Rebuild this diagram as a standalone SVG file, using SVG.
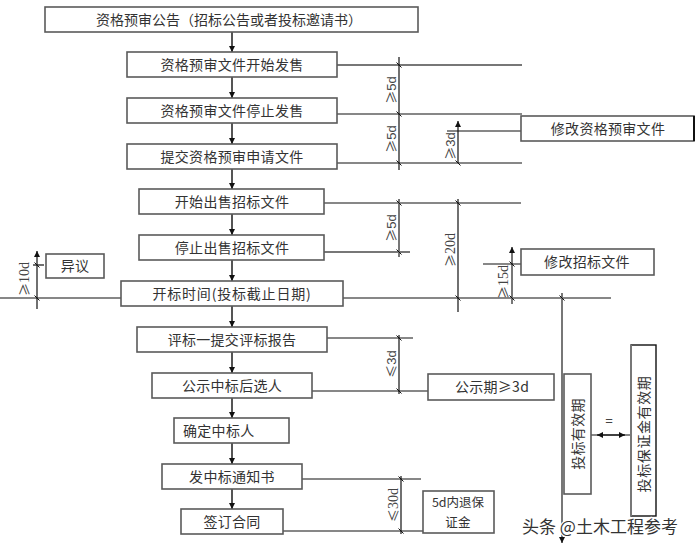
<svg xmlns="http://www.w3.org/2000/svg" width="699" height="549" viewBox="0 0 699 549">
<defs>
<style>
.box{fill:#fff;stroke:#5a5a5a;stroke-width:1.6}
.t{font-family:"Noto Sans CJK SC","Liberation Sans",sans-serif;font-size:14px;fill:#333;letter-spacing:0.3px}
.c{text-anchor:middle}
.dim{font-family:"Liberation Sans","Noto Sans CJK SC",sans-serif;font-size:13px;fill:#444;text-anchor:middle}
.dims{font-family:"Liberation Serif","Noto Sans CJK SC",serif;font-size:14px;fill:#444;text-anchor:middle}
.ge{font-family:"Noto Sans CJK SC",sans-serif;font-size:13px}
.k{stroke:#111;stroke-width:1.2;fill:none}
.g{stroke:#777;stroke-width:2;fill:none}
.flow{stroke:#555;stroke-width:2;fill:none;marker-end:url(#arr)}
.tick{stroke:#111;stroke-width:1;fill:none}
</style>
<marker id="arr" viewBox="0 0 6 6" refX="6" refY="3" markerWidth="6" markerHeight="6" markerUnits="userSpaceOnUse" orient="auto"><path d="M0,0 L6,3 L0,6 z" fill="#111"/></marker>
<marker id="arrs" viewBox="0 0 6 6" refX="0" refY="3" markerWidth="6" markerHeight="6" markerUnits="userSpaceOnUse" orient="auto"><path d="M6,0 L0,3 L6,6 z" fill="#111"/></marker>
</defs>
<rect width="699" height="549" fill="#fff"/>

<g id="connectors">
<path class="flow" d="M232,32 V52"/>
<path class="flow" d="M232,77 V98"/>
<path class="flow" d="M232,123 V144"/>
<path class="flow" d="M232,169 V189"/>
<path class="flow" d="M232,214 V235"/>
<path class="flow" d="M232,260 V281"/>
<path class="flow" d="M232,306 V327"/>
<path class="flow" d="M232,352 V373"/>
<path class="flow" d="M232,398 V418"/>
<path class="flow" d="M232,443 V464"/>
<path class="flow" d="M232,489 V509"/>

<path class="g" d="M337,65 H522"/>
<path class="k" d="M337,114 H522"/>
<path class="k" d="M337,163 H522"/>
<path class="k" d="M399,57 V170"/>
<path class="k" d="M458,163 V121" marker-end="url(#arr)"/>
<path class="k" d="M447,131 H521"/>

<path class="k" d="M324,203 H521"/>
<path class="g" d="M324,252 H410"/>
<path class="g" d="M399,199 V257"/>
<path class="k" d="M458,199 V312"/>
<path class="k" d="M0,298 H121"/>
<path class="k" d="M343,298 H611"/>
<path class="g" d="M512,304 V247" marker-end="url(#arr)"/>
<path class="k" d="M483,264 H521"/>
<path class="k" d="M37,309 V251" marker-end="url(#arr)"/>
<path class="k" d="M33,265 H44"/>
<path class="g" d="M562,293 V543" marker-end="url(#arr)"/>

<path class="k" d="M327,338 H413"/>
<path class="k" d="M312,391 H428"/>
<path class="k" d="M399,335 V394"/>
<path class="k" d="M302,479 H421"/>
<path class="k" d="M283,531 H423"/>
<path class="k" d="M401,476 V534"/>

<path class="k" d="M597,435 H625" marker-start="url(#arrs)" marker-end="url(#arr)"/>
<path class="k" d="M591,435 H631" stroke-width="1.4"/>

<g class="tick">
<path d="M396.5,62.5 l5,5"/><path d="M396.5,111.5 l5,5"/><path d="M396.5,160.5 l5,5"/>
<path d="M455.5,160.5 l5,5"/>
<path d="M396.5,200.5 l5,5"/><path d="M396.5,249.5 l5,5"/>
<path d="M455.5,200.5 l5,5"/><path d="M455.5,295.5 l5,5"/>
<path d="M509.5,261.5 l5,5"/><path d="M509.5,295.5 l5,5"/>
<path d="M34.5,262.5 l5,5"/><path d="M34.5,295.5 l5,5"/>
<path d="M559.5,295.5 l5,5"/>
<path d="M396.5,335.5 l5,5"/><path d="M396.5,388.5 l5,5"/>
<path d="M398.5,476.5 l5,5"/><path d="M398.5,528.5 l5,5"/>
</g>

<text class="dim" transform="translate(396,90) rotate(-90)"><tspan class="ge">≥</tspan>5d</text>
<text class="dim" transform="translate(396,139) rotate(-90)"><tspan class="ge">≥</tspan>5d</text>
<text class="dim" transform="translate(455,146) rotate(-90)"><tspan class="ge">≥</tspan>3d</text>
<text class="dim" transform="translate(396,228) rotate(-90)"><tspan class="ge">≥</tspan>5d</text>
<text class="dims" transform="translate(455,250) rotate(-90)"><tspan class="ge">≥</tspan>20d</text>
<text class="dims" transform="translate(508,282) rotate(-90)"><tspan class="ge">≥</tspan>15d</text>
<text class="dims" transform="translate(29,279) rotate(-90)"><tspan class="ge">≥</tspan>10d</text>
<text class="dim" transform="translate(396,364) rotate(-90)"><tspan class="ge">≤</tspan>3d</text>
<text class="dims" transform="translate(398,505) rotate(-90)"><tspan class="ge">≤</tspan>30d</text>
<text class="dim" x="609" y="425" font-size="11">=</text>
</g>

<g id="n1"><rect class="box" x="45" y="7" width="373" height="25"/><text class="t c" x="229" y="25" style="letter-spacing:0">资格预审公告（招标公告或者投标邀请书）</text></g>
<g id="n2"><rect class="box" x="127" y="52" width="210" height="25"/><text class="t c" x="232" y="69.5">资格预审文件开始发售</text></g>
<g id="n3"><rect class="box" x="127" y="98" width="210" height="25"/><text class="t c" x="232" y="115.5">资格预审文件停止发售</text></g>
<g id="n4"><rect class="box" x="127" y="144" width="210" height="25"/><text class="t c" x="232" y="161.5">提交资格预审申请文件</text></g>
<g id="n5"><rect class="box" x="139" y="189" width="185" height="25"/><text class="t c" x="232" y="206.5">开始出售招标文件</text></g>
<g id="n6"><rect class="box" x="139" y="235" width="185" height="25"/><text class="t c" x="232" y="252.5">停止出售招标文件</text></g>
<g id="n7"><rect class="box" x="121" y="281" width="222" height="25"/><text class="t c" x="232" y="298.5" style="letter-spacing:0.8px">开标时间(投标截止日期)</text></g>
<g id="n8"><rect class="box" x="137" y="327" width="190" height="25"/><text class="t c" x="232" y="344.5">评标一提交评标报告</text></g>
<g id="n9"><rect class="box" x="152" y="373" width="160" height="25"/><text class="t c" x="232" y="390.5">公示中标后选人</text></g>
<g id="n10"><rect class="box" x="174" y="418" width="115" height="25"/><text class="t" x="183" y="435.5">确定中标人</text></g>
<g id="n11"><rect class="box" x="162" y="464" width="140" height="25"/><text class="t c" x="232" y="481.5">发中标通知书</text></g>
<g id="n12"><rect class="box" x="181" y="509" width="102" height="25"/><text class="t c" x="232" y="526.5">签订合同</text></g>
<g id="n13"><rect class="box" x="46" y="254" width="58" height="24"/><text class="t c" x="75" y="271">异议</text></g>
<g id="n14"><rect class="box" x="521" y="116" width="173" height="25"/><path d="M694,116 V141" stroke="#111" stroke-width="2"/><text class="t c" x="608" y="133.5">修改资格预审文件</text></g>
<g id="n15"><rect class="box" x="521" y="249" width="133" height="26"/><text class="t c" x="587" y="266.5">修改招标文件</text></g>
<g id="n16"><rect class="box" x="428" y="374" width="126" height="26"/><text class="t c" x="492" y="392">公示期≥3d</text></g>
<g id="n17"><rect class="box" x="423" y="491" width="71" height="42"/><text class="t c" x="458" y="507" style="font-size:12.5px;letter-spacing:0">5d内退保</text><text class="t c" x="458" y="527" style="font-size:12.5px">证金</text></g>
<g id="n18"><rect class="box" x="564" y="374" width="27" height="120"/><text class="t c" transform="translate(582.5,434) rotate(-90)">投标有效期</text></g>
<g id="n19"><rect x="631" y="345" width="25" height="171" fill="#fff" stroke="#111" stroke-width="1.4"/><path d="M631,345 V516" stroke="#777" stroke-width="2"/><text class="t c" transform="translate(648.5,434) rotate(-90)" style="letter-spacing:0.6px">投标保证金有效期</text></g>

<text x="522" y="533" font-family="Noto Sans CJK SC,sans-serif" font-size="17" fill="#333" stroke="#fff" stroke-width="2.5" paint-order="stroke">头条 @土木工程参考</text>
</svg>
